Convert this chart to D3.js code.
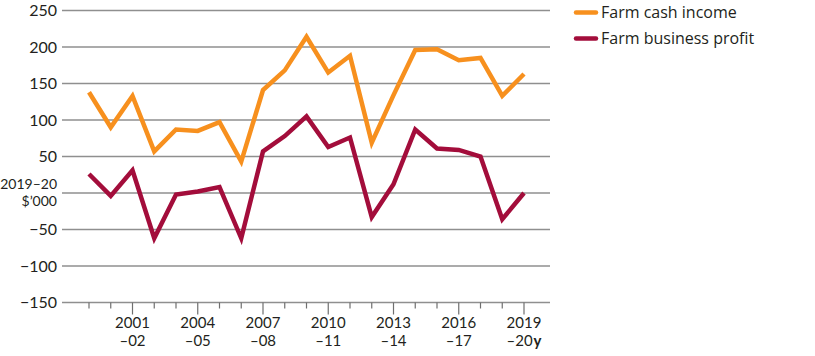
<!DOCTYPE html>
<html>
<head>
<meta charset="utf-8">
<script src="https://cdn.jsdelivr.net/npm/d3@7/dist/d3.min.js"></script>
<style>
  html, body { margin: 0; padding: 0; background: #fff; }
  svg { display: block; }
  text { font-family: "Open Sans", "Noto Sans", sans-serif; fill: #231f20; }
  text.ax { font-family: Lato, "Open Sans", sans-serif; }
</style>
</head>
<body>
<svg id="chart" width="815" height="356"></svg>
<script>
const years = ["1999-00","2000-01","2001-02","2002-03","2003-04","2004-05","2005-06","2006-07","2007-08","2008-09","2009-10","2010-11","2011-12","2012-13","2013-14","2014-15","2015-16","2016-17","2017-18","2018-19","2019-20"];
const farmCashIncome = [138, 90, 133, 57, 87, 85, 97, 43, 141, 168, 214, 165, 188, 69, 134, 196, 197, 182, 185, 133, 163];
const farmBusinessProfit = [26, -4, 31, -62, -2, 2, 8, -62, 57, 78, 105, 63, 76, -33, 12, 87, 61, 59, 50, -36, 0];
const yTicks = [250, 200, 150, 100, 50, 0, -50, -100, -150];
const xLabelTop = {"2001-02":"2001","2004-05":"2004","2007-08":"2007","2010-11":"2010","2013-14":"2013","2016-17":"2016","2019-20":"2019"};
const xLabelBottom = {"2001-02":"\u201302","2004-05":"\u201305","2007-08":"\u201308","2010-11":"\u201311","2013-14":"\u201314","2016-17":"\u201317","2019-20":"\u201320"};
const seriesNames = ["Farm cash income", "Farm business profit"];
const colors = ["#f7901e", "#a30d3b"];

const svg = d3.select("#chart");
const left = 62, right = 550;
const x = d3.scalePoint().domain(years).range([89, 524]);
const y = d3.scaleLinear().domain([-150, 250]).range([302.5, 10.5]);

// gridlines
svg.append("g").selectAll("line").data(yTicks.filter(d => d !== -150)).join("line")
  .attr("x1", left).attr("x2", right)
  .attr("y1", d => y(d)).attr("y2", d => y(d))
  .attr("stroke", "#8f8f8f").attr("stroke-width", 1.3);

// y labels
const yl = svg.append("g");
yTicks.forEach(t => {
  if (t === 0) {
    const tx = yl.append("text").attr("class", "ax").attr("text-anchor", "end").attr("font-size", 14);
    tx.append("tspan").attr("x", 57).attr("y", y(0) - 4).text("2019\u201320");
    tx.append("tspan").attr("x", 57).attr("y", y(0) + 13).text("$\u2019000");
  } else {
    yl.append("text").attr("class", "ax").attr("x", 57).attr("y", y(t)).attr("dy", "0.35em")
      .attr("text-anchor", "end").attr("font-size", 16)
      .text(t < 0 ? "\u2212" + Math.abs(t) : t);
  }
});

// x axis
const xg = svg.append("g");
xg.append("line").attr("x1", left).attr("x2", right)
  .attr("y1", y(-150)).attr("y2", y(-150))
  .attr("stroke", "#8f8f8f").attr("stroke-width", 1.3);
xg.selectAll("line.tick").data(years).join("line").attr("class", "tick")
  .attr("x1", d => x(d)).attr("x2", d => x(d))
  .attr("y1", y(-150)).attr("y2", d => y(-150) + (xLabelTop[d] ? 12 : 6))
  .attr("stroke", "#6f6f6f").attr("stroke-width", 1.2);
years.filter(d => xLabelTop[d]).forEach((d, i, arr) => {
  const tx = xg.append("text").attr("class", "ax").attr("text-anchor", "middle").attr("font-size", 15);
  tx.append("tspan").attr("x", x(d)).attr("y", 327.5).text(xLabelTop[d]);
  tx.append("tspan").attr("x", x(d)).attr("y", 346).text(xLabelBottom[d]);
  if (i === arr.length - 1) {
    tx.append("tspan").attr("font-weight", "bold").attr("dx", 1).text("y");
  }
});

// lines
const line = d3.line().x((d, i) => x(years[i])).y(d => y(d));
[farmCashIncome, farmBusinessProfit].forEach((s, i) => {
  svg.append("path").datum(s).attr("d", line).attr("fill", "none")
    .attr("stroke", colors[i]).attr("stroke-width", 4.5)
    .attr("stroke-linejoin", "miter").attr("stroke-linecap", "butt");
});

// legend
seriesNames.forEach((n, i) => {
  const ly = 12.5 + i * 26;
  svg.append("line").attr("x1", 576).attr("x2", 596).attr("y1", ly).attr("y2", ly)
    .attr("stroke", colors[i]).attr("stroke-width", 4.5).attr("stroke-linecap", "round");
  svg.append("text").attr("x", 601).attr("y", ly).attr("dy", "0.35em")
    .attr("font-size", 16).text(n);
});
</script>
</body>
</html>
